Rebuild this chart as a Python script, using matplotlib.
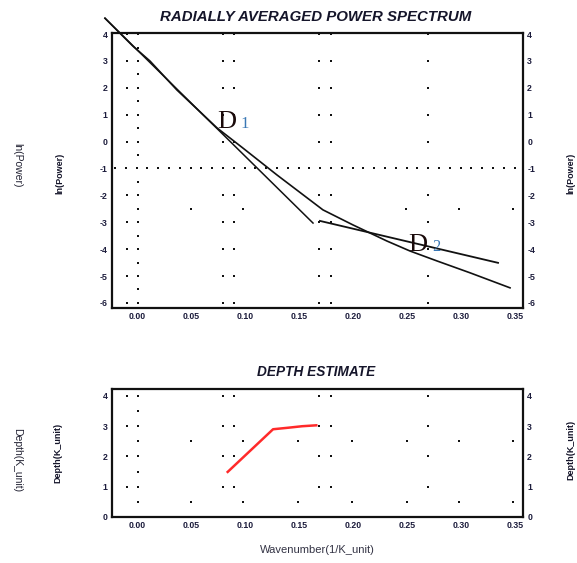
import matplotlib
matplotlib.use("Agg")
import matplotlib.pyplot as plt
import numpy as np

# ---------------- data ----------------
# radially averaged power spectrum (observed curve)
spec_k = [-0.0296, -0.0204, -0.0037, 0.0120, 0.0370, 0.0741, 0.0981, 0.1296,
          0.1722, 0.2000, 0.2315, 0.2528, 0.2778, 0.3083, 0.3454]
spec_lnp = [4.59, 4.22, 3.55, 3.00, 1.92, 0.51, -0.24, -1.24,
            -2.54, -3.10, -3.70, -4.07, -4.44, -4.88, -5.44]
# straight-line fits
d1_k = [-0.0296, 0.163]
d1_lnp = [4.59, -3.03]
d2_k = [0.1694, 0.3343]
d2_lnp = [-2.95, -4.51]
# depth estimate
depth_k = [0.084, 0.126, 0.140, 0.153, 0.166]
depth_val = [1.49, 2.90, 2.95, 3.00, 3.03]

xticks = [0.00, 0.05, 0.10, 0.15, 0.20, 0.25, 0.30, 0.35]
xticklabels = ["0.00", "0.05", "0.10", "0.15", "0.20", "0.25", "0.30", "0.35"]
yticks_top = [4, 3, 2, 1, 0, -1, -2, -3, -4, -5, -6]
yticks_bot = [0, 1, 2, 3, 4]

# decorative dot grid
dot_cols = [-0.009, 0.001, 0.080, 0.090, 0.169, 0.180, 0.269]
dot_rows_top = [4, 3, 2, 1, 0, -2, -3, -4, -5, -6]
half_rows_top = [3.5, 2.5, 1.5, 0.5, -0.5, -1.5, -2.5, -3.5, -4.5, -5.5]
row_m25_cols = [0.05, 0.098, 0.249, 0.298, 0.348]
dash_row_cols = list(np.arange(-0.0204, 0.356, 0.01))
dot_rows_bot = [4, 3, 2, 1]
half_rows_bot = [3.5, 1.5]
sparse_rows_bot = [2.5, 0.5]
sparse_cols_bot = [0.001, 0.05, 0.098, 0.149, 0.199, 0.25, 0.298, 0.348]

# ---------------- figure ----------------
W, H = 577, 563
fig = plt.figure(figsize=(W / 100, H / 100), dpi=100)
fig.patch.set_facecolor("white")

SANS = ["Liberation Sans", "DejaVu Sans"]
SERIF = ["Liberation Serif", "DejaVu Serif"]
tick_color = "#1c1c3c"

xlim = (-0.0231, 0.3574)
ax1 = fig.add_axes([112 / W, 1 - 308 / H, (523 - 112) / W, (308 - 33) / H])
ax2 = fig.add_axes([112 / W, 1 - 517 / H, (523 - 112) / W, (517 - 389) / H])


def style(ax, yticks, ylim):
    ax.set_xlim(*xlim)
    ax.set_ylim(*ylim)
    ax.set_xticks(xticks)
    ax.set_xticklabels(xticklabels)
    ax.set_yticks(yticks)
    ax.set_yticklabels([str(v) for v in yticks])
    ax.tick_params(axis="both", length=0, pad=3, labelsize=6.3, colors=tick_color,
                   labelright=True, right=True)
    for lab in ax.get_xticklabels() + ax.get_yticklabels():
        lab.set_family(SANS)
        lab.set_fontweight("bold")
    for sp in ax.spines.values():
        sp.set_linewidth(1.6)
        sp.set_color("#111111")


style(ax1, yticks_top, (-6.19, 4.04))
style(ax2, yticks_bot, (0, 4.23))

# dots top
px, py = [], []
for r in dot_rows_top:
    for c in dot_cols:
        px.append(c); py.append(r)
for r in half_rows_top:
    px.append(0.001); py.append(r)
for c in row_m25_cols:
    px.append(c); py.append(-2.5)
for c in dash_row_cols:
    px.append(c); py.append(-1)
ax1.scatter(px, py, s=2.2, marker="s", color="#111111", linewidths=0, zorder=2)

# dots bottom
bx, by = [], []
for r in dot_rows_bot:
    for c in dot_cols:
        bx.append(c); by.append(r)
for r in half_rows_bot:
    bx.append(0.001); by.append(r)
for r in sparse_rows_bot:
    for c in sparse_cols_bot:
        bx.append(c); by.append(r)
ax2.scatter(bx, by, s=2.2, marker="s", color="#111111", linewidths=0, zorder=2)

# lines top
ax1.plot(spec_k, spec_lnp, color="#111111", lw=1.2, clip_on=False, zorder=3)
ax1.plot(d1_k, d1_lnp, color="#111111", lw=1.1, clip_on=False, zorder=3)
ax1.plot(d2_k, d2_lnp, color="#111111", lw=1.3, clip_on=False, zorder=3)

# D labels
ax1.text(0.0740, 0.50, "D", family=SERIF, fontsize=19, color="#1a0a0a",
         ha="left", va="baseline", zorder=4)
ax1.text(0.0960, 0.50, "1", family=SERIF, fontsize=12, color="#3a78b5",
         ha="left", va="baseline", zorder=4)
ax1.text(0.2510, -4.07, "D", family=SERIF, fontsize=19, color="#1a0a0a",
         ha="left", va="baseline", zorder=4)
ax1.text(0.2730, -4.07, "2", family=SERIF, fontsize=12, color="#3a78b5",
         ha="left", va="baseline", zorder=4)

# depth line
ax2.plot(depth_k, depth_val, color="#ff2a2a", lw=1.8, zorder=3)

# titles
fig.text(316 / W, 1 - 17 / H, "RADIALLY AVERAGED POWER SPECTRUM", family=SANS,
         fontsize=10.8, fontweight="bold", fontstyle="italic", color="#15152a",
         ha="center", va="center")
fig.text(316 / W, 1 - 372 / H, "DEPTH ESTIMATE", family=SANS,
         fontsize=9.8, fontweight="bold", fontstyle="italic", color="#15152a",
         ha="center", va="center")
fig.text(317 / W, 1 - 550 / H, "Wavenumber(1/K_unit)", family=SANS,
         fontsize=8, color="#333344", ha="center", va="center")

# y labels
fig.text(17 / W, 1 - 165 / H, "ln(Power)", family=SANS, fontsize=7.5,
         rotation=-90, color="#222233", ha="center", va="center")
fig.text(60 / W, 1 - 173 / H, "ln(Power)", family=SANS, fontsize=6.5,
         fontweight="bold", rotation=90, color="#15152a", ha="center", va="center")
fig.text(571 / W, 1 - 173 / H, "ln(Power)", family=SANS, fontsize=6.5,
         fontweight="bold", rotation=90, color="#15152a", ha="center", va="center")
fig.text(17 / W, 1 - 460 / H, "Depth(K_unit)", family=SANS, fontsize=7.5,
         rotation=-90, color="#222233", ha="center", va="center")
fig.text(58 / W, 1 - 453 / H, "Depth(K_unit)", family=SANS, fontsize=6.5,
         fontweight="bold", rotation=90, color="#15152a", ha="center", va="center")
fig.text(571 / W, 1 - 450 / H, "Depth(K_unit)", family=SANS, fontsize=6.5,
         fontweight="bold", rotation=90, color="#15152a", ha="center", va="center")

fig.savefig("out.png", dpi=100, facecolor="white")
